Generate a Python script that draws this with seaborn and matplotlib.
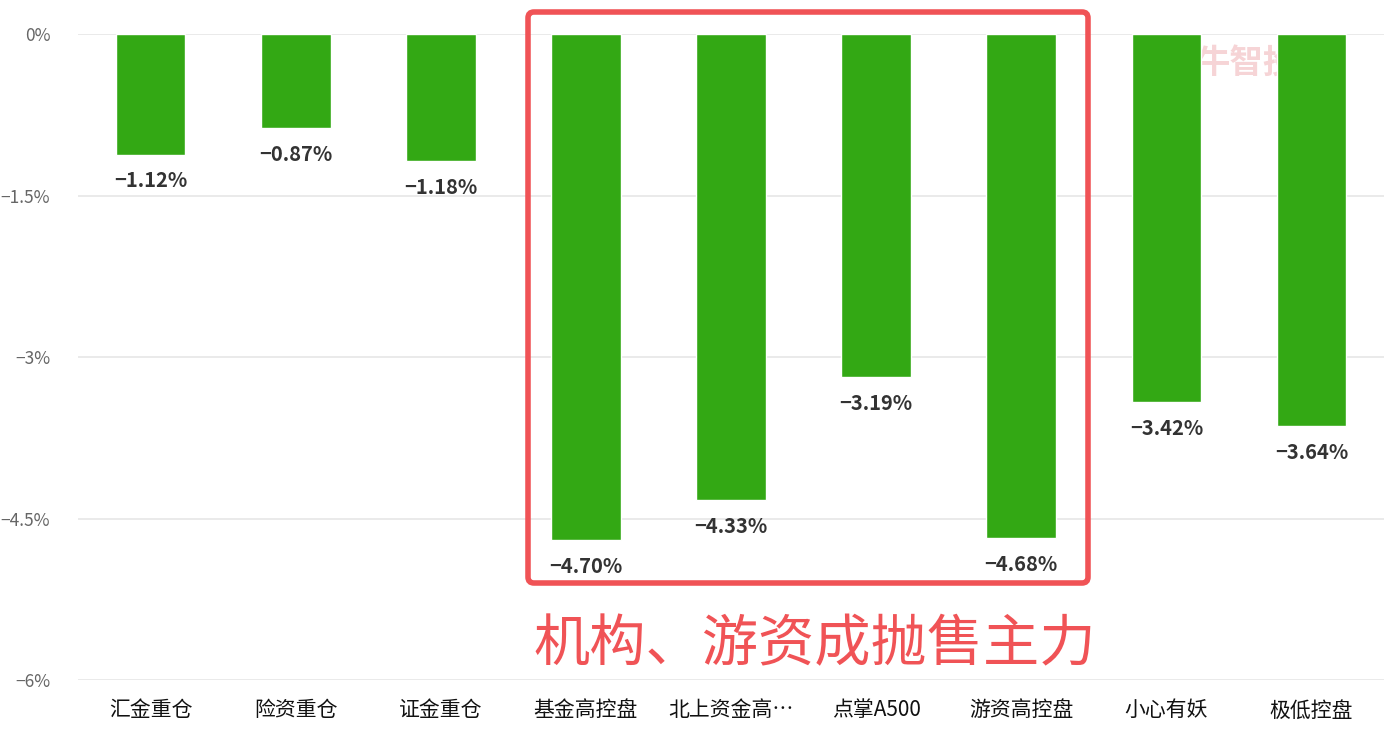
import numpy as np
import pandas as pd
import matplotlib
matplotlib.use("Agg")
import matplotlib.pyplot as plt
import seaborn as sns
from matplotlib.patches import FancyBboxPatch
from matplotlib.ticker import FuncFormatter

categories = ["汇金重仓", "险资重仓", "证金重仓", "基金高控盘", "北上资金高…",
              "点掌A500", "游资高控盘", "小心有妖", "极低控盘"]
changes = [-1.12, -0.87, -1.18, -4.70, -4.33, -3.19, -4.68, -3.42, -3.64]
yticks = [0, -1.5, -3, -4.5, -6]
note = "机构、游资成抛售主力"

sns.set_theme(style="white")
plt.rcParams['font.family'] = ['Noto Sans CJK SC', 'DejaVu Sans']
plt.rcParams['axes.unicode_minus'] = True

df = pd.DataFrame({"cat": categories, "val": changes})

fig = plt.figure(figsize=(13.84, 7.33), dpi=100)
ax = fig.add_axes([0.0564, 0.0723, 0.9436, 0.8813])

sns.barplot(data=df, x="cat", y="val", color="#33a814", saturation=1,
            width=0.48, ax=ax, zorder=3)

# faint watermark
ax.text(7.55, -0.28, "牛智投", fontsize=24, color="#f6d4d6", fontweight="bold",
        ha="center", va="center", zorder=1)

for i, v in enumerate(changes):
    ax.annotate(("%.2f%%" % v).replace("-", "\u2212"), (i, v), xytext=(0, -19),
                textcoords="offset points", ha="center", va="center",
                fontsize=14.5, color="#333333", fontweight="bold")

ax.set_ylim(-6, 0)
ax.set_xlim(-0.5, len(categories) - 0.5)
ax.set_yticks(yticks)
ax.yaxis.set_major_formatter(FuncFormatter(lambda v, p: ("%g%%" % v).replace("-", "\u2212")))
ax.grid(axis="y", color="#e6e6e6", linewidth=1.2, zorder=0)
for s in ax.spines.values():
    s.set_visible(False)
ax.set_xlabel("")
ax.set_ylabel("")
ax.tick_params(axis="y", labelsize=12.5, colors="#666666", length=0, pad=20)
ax.tick_params(axis="x", labelsize=15, colors="#111111", length=0, pad=14)
for lbl in ax.get_yticklabels():
    lbl.set_ha("right")

# red highlight box
box = FancyBboxPatch((528, 733 - 583), 560, 571, boxstyle="round,pad=0,rounding_size=6",
                     transform=None, fill=False, edgecolor="#f05356", linewidth=4,
                     zorder=5)
fig.patches.append(box)
fig.text(815 / 1384, 1 - 645 / 733, note, fontsize=40.5, color="#f05356",
         ha="center", va="center")

fig.savefig("out.png", dpi=100)
